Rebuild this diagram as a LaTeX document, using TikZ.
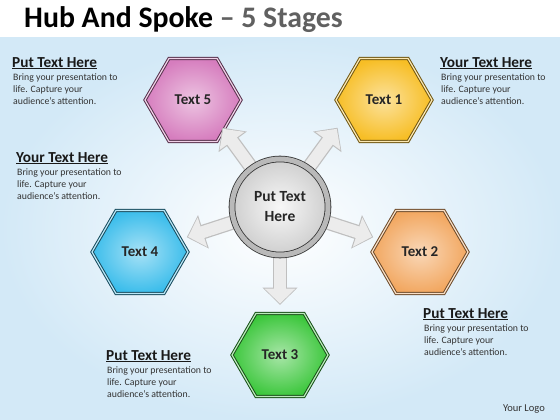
\documentclass[tikz,border=0pt]{standalone}
\usepackage{fontspec}
\setmainfont{Carlito}
\usetikzlibrary{shapes.geometric,arrows.meta,positioning}
\definecolor{bgblue}{HTML}{D3E9F7}
\definecolor{pinkhex}{HTML}{D67DBE}
\definecolor{yellowhex}{HTML}{F7BE25}
\definecolor{orangehex}{HTML}{F2A760}
\definecolor{greenhex}{HTML}{3DC73D}
\definecolor{bluehex}{HTML}{3BBDEB}
\tikzset{
  hexa/.style 2 args={regular polygon, regular polygon sides=6, minimum size=96pt,
    inner sep=0pt, inner color=#1!45!white, outer color=#1, draw=#2,
    double=#1!35!white, double distance=1.2pt, line width=1pt,
    text=black!85, font=\fontsize{15}{18}\selectfont\bfseries},
  hub/.style={circle, minimum size=96pt, inner sep=0pt, inner color=gray!6,
    outer color=gray!38, draw=gray!40!black, double=gray!55, double distance=5pt,
    line width=0.8pt, align=center, text=black!85,
    font=\fontsize{15.5}{20}\selectfont\bfseries},
  head/.style={anchor=base west, inner sep=0pt, text=black!90,
    font=\fontsize{15.3}{17}\selectfont\bfseries},
  body/.style={anchor=north west, inner sep=0pt, align=left, text=black!80,
    font=\fontsize{9.8}{12}\selectfont},
}
\begin{document}
\begin{tikzpicture}[x=1pt,y=-1pt]
\useasboundingbox (0,0) rectangle (560,420);
% background
\fill[white] (0,0) rectangle (560,420);
\shade[inner color=white, outer color=bgblue] (0,38) rectangle (560,420);
\node[anchor=base west, inner sep=0pt] (title) at (24,28)
  {\fontsize{29.8}{34}\selectfont\bfseries Hub And Spoke {\color{gray!75!black}– 5 Stages}};

% stages
\node[hexa={yellowhex}{yellowhex!45!black}] (h1) at (384,100) {Text 1};
\node[hexa={orangehex}{orangehex!45!black}] (h2) at (420,252) {Text 2};
\node[hexa={greenhex}{greenhex!40!black}] (h3) at (280,355) {Text 3};
\node[hexa={bluehex}{bluehex!40!black}] (h4) at (140,252) {Text 4};
\node[hexa={pinkhex}{pinkhex!40!black}] (h5) at (193,100) {Text 5};

% spokes, drawn before the hub
\coordinate (c) at (280,207);
\foreach \a/\n in {-54/1,18/2,90/3,162/4,-126/5}{
  \draw[gray!50, line width=14.5pt, -{Triangle[width=34pt,length=17.5pt]}]
    (c) -- ++(\a:98) coordinate (tip\n);
  \draw[gray!15, line width=12pt, -{Triangle[width=30pt,length=15pt]}, shorten >=1.4pt]
    (c) -- (tip\n);
}
\node[hub] (hub) at (c) {Put Text\\Here};

% notes
\node[head] (t5) at (12,67) {\underline{Put Text Here}};
\node[body] (b5) at (13,73.5) {Bring your presentation to\\life. Capture your\\audience’s attention.};
\node[head] (t1) at (440,67) {\underline{Your Text Here}};
\node[body] (b1) at (441,73.5) {Bring your presentation to\\life. Capture your\\audience’s attention.};
\node[head] (t4) at (16,162) {\underline{Your Text Here}};
\node[body] (b4) at (17,168.5) {Bring your presentation to\\life. Capture your\\audience’s attention.};
\node[head] (t2) at (423,318) {\underline{Put Text Here}};
\node[body] (b2) at (424,324.5) {Bring your presentation to\\life. Capture your\\audience’s attention.};
\node[head] (t3) at (106,360) {\underline{Put Text Here}};
\node[body] (b3) at (107,366.5) {Bring your presentation to\\life. Capture your\\audience’s attention.};

\node[anchor=base east, inner sep=0pt, text=black!80, font=\fontsize{10.5}{12}\selectfont] (logo) at (545,411) {Your Logo};
\end{tikzpicture}
\end{document}
